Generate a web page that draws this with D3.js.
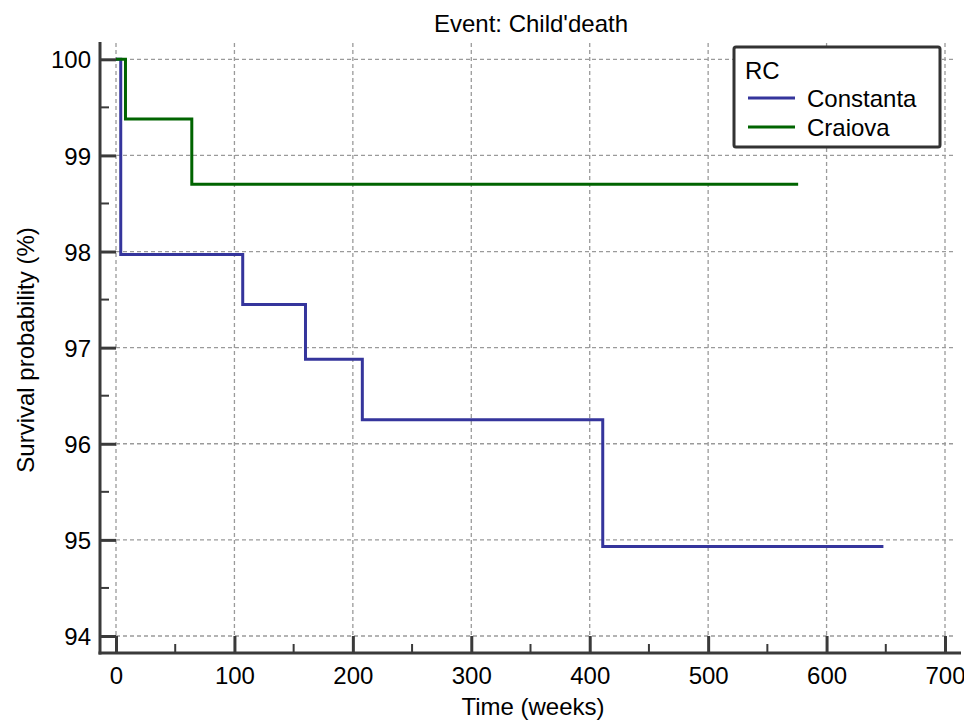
<!DOCTYPE html>
<meta charset="utf-8">
<style>
    body { margin: 0; background: #fff; }
    svg { font-family: "Liberation Sans", Arial, sans-serif; }
    .grid line { stroke: #9a9a9a; stroke-width: 1.3; stroke-dasharray: 4,3; }
    .axis text { font-size: 24px; fill: #000; }
    .axis line { stroke: #3a3a3a; }
</style>
<body>
<div id="chart"></div>
<script src="https://d3js.org/d3.v7.min.js"></script>
<script>

    // data
    var constantaTime = [0, 4, 107, 160, 208, 411, 648],
        constantaSurv = [100, 97.97, 97.45, 96.88, 96.25, 94.93, 94.93];

    var craiovaTime = [0, 8, 64, 576],
        craiovaSurv = [100, 99.38, 98.70, 98.70];

    var seriesNames = ["Constanta", "Craiova"],
        seriesColors = ["#35359c", "#006400"];

    var xTicks = [0, 100, 200, 300, 400, 500, 600, 700],
        xMinor = [50, 150, 250, 350, 450, 550, 650],
        yTicks = [94, 95, 96, 97, 98, 99, 100],
        yMinor = [94.5, 95.5, 96.5, 97.5, 98.5, 99.5];

    // dims
    var svg_dx = 964, svg_dy = 722,
        axisX = 100,      // y axis line position
        axisY = 653,      // x axis line position
        axisTop = 42,
        axisRight = 961;

    var x = d3.scaleLinear().domain([0, 700]).range([116, 945]),
        y = d3.scaleLinear().domain([94, 100]).range([636, 59.3]);

    var svg = d3.select("#chart")
        .append("svg")
        .attr("width", svg_dx)
        .attr("height", svg_dy);

    // grid
    var grid = svg.append("g").attr("class", "grid");

    grid.selectAll(".vg")
        .data(xTicks)
        .enter()
        .append("line")
        .attr("x1", function(d) { return x(d); })
        .attr("x2", function(d) { return x(d); })
        .attr("y1", axisTop + 1)
        .attr("y2", y(94));

    grid.selectAll(".hg")
        .data(yTicks)
        .enter()
        .append("line")
        .attr("x1", x(0))
        .attr("x2", 953)
        .attr("y1", function(d) { return y(d); })
        .attr("y2", function(d) { return y(d); });

    // axes
    var xAxis = svg.append("g")
        .attr("class", "axis")
        .attr("transform", "translate(0," + axisY + ")")
        .call(d3.axisBottom(x).tickValues(xTicks).tickFormat(d3.format("d"))
            .tickSizeInner(-(axisY - y(94))).tickSizeOuter(0).tickPadding(14));

    xAxis.selectAll(".tick line").attr("stroke-width", 3);

    xAxis.selectAll(".minor")
        .data(xMinor)
        .enter()
        .append("line")
        .attr("class", "minor")
        .attr("x1", function(d) { return x(d); })
        .attr("x2", function(d) { return x(d); })
        .attr("y1", 0)
        .attr("y2", -9)
        .attr("stroke-width", 2);

    var yAxis = svg.append("g")
        .attr("class", "axis")
        .attr("transform", "translate(" + axisX + ",0)")
        .call(d3.axisLeft(y).tickValues(yTicks).tickFormat(d3.format("d"))
            .tickSizeInner(-(x(0) - axisX)).tickSizeOuter(0).tickPadding(9));

    yAxis.selectAll(".tick line").attr("stroke-width", 3);
    yAxis.selectAll(".tick text").attr("dy", "0.36em");

    yAxis.selectAll(".minor")
        .data(yMinor)
        .enter()
        .append("line")
        .attr("class", "minor")
        .attr("x1", 0)
        .attr("x2", 9)
        .attr("y1", function(d) { return y(d); })
        .attr("y2", function(d) { return y(d); })
        .attr("stroke-width", 2);

    svg.selectAll(".domain").remove();

    // axis lines
    svg.append("line")
        .attr("x1", axisX).attr("x2", axisX)
        .attr("y1", axisTop).attr("y2", axisY + 1.5)
        .attr("stroke", "#3a3a3a").attr("stroke-width", 3);

    svg.append("line")
        .attr("x1", axisX - 1.5).attr("x2", axisRight)
        .attr("y1", axisY).attr("y2", axisY)
        .attr("stroke", "#3a3a3a").attr("stroke-width", 3);

    // survival curves
    var line = d3.line()
        .x(function(d) { return x(d[0]); })
        .y(function(d) { return y(d[1]); })
        .curve(d3.curveStepAfter);

    var curves = [
        d3.zip(constantaTime, constantaSurv),
        d3.zip(craiovaTime, craiovaSurv)
    ];

    svg.append("g")
        .selectAll("path")
        .data(curves)
        .enter()
        .append("path")
        .attr("d", line)
        .attr("fill", "none")
        .attr("stroke", function(d, i) { return seriesColors[i]; })
        .attr("stroke-width", 3);

    // titles
    svg.append("text")
        .attr("x", 531)
        .attr("y", 32)
        .attr("text-anchor", "middle")
        .style("font-size", "24px")
        .text("Event: Child'death");

    svg.append("text")
        .attr("x", 533)
        .attr("y", 715)
        .attr("text-anchor", "middle")
        .style("font-size", "24px")
        .text("Time (weeks)");

    svg.append("text")
        .attr("transform", "translate(34,350) rotate(-90)")
        .attr("text-anchor", "middle")
        .style("font-size", "24px")
        .text("Survival probability (%)");

    // legend
    var legend = svg.append("g").attr("id", "legend");

    legend.append("rect")
        .attr("x", 734)
        .attr("y", 47)
        .attr("width", 206)
        .attr("height", 100)
        .attr("rx", 2)
        .attr("fill", "#fff")
        .attr("stroke", "#333")
        .attr("stroke-width", 3);

    legend.append("text")
        .attr("x", 745)
        .attr("y", 79)
        .style("font-size", "24px")
        .text("RC");

    var items = legend.selectAll(".item")
        .data(seriesNames)
        .enter()
        .append("g")
        .attr("class", "item")
        .attr("transform", function(d, i) { return "translate(0," + (i * 29) + ")"; });

    items.append("line")
        .attr("x1", 748)
        .attr("x2", 795)
        .attr("y1", 98)
        .attr("y2", 98)
        .attr("stroke", function(d, i) { return seriesColors[i]; })
        .attr("stroke-width", 3);

    items.append("text")
        .attr("x", 807)
        .attr("y", 107)
        .style("font-size", "24px")
        .text(function(d) { return d; });

</script>
</body>
